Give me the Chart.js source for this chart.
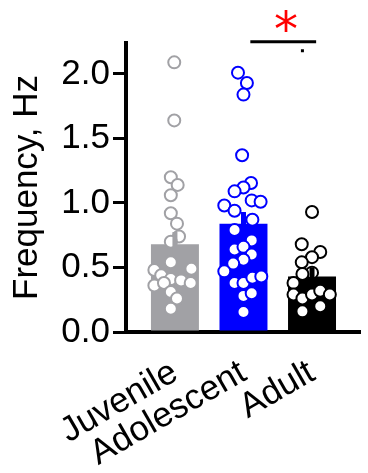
<!DOCTYPE html>
<html>
<head>
<meta charset="utf-8">
<script src="https://cdn.jsdelivr.net/npm/chart.js@4/dist/chart.umd.min.js"></script>
<style>
  html, body { margin: 0; padding: 0; background: #fff; }
  #wrap { width: 368px; height: 473px; }
</style>
</head>
<body>
<div id="wrap"><canvas id="chart" width="368" height="473"></canvas></div>
<script>
// Data

const groups = ['Juvenile', 'Adolescent', 'Adult'];
const means = [0.68, 0.84, 0.43];
const sems = [0.095, 0.09, 0.07];

const juvenileValues = [2.09, 1.64, 1.20, 1.14, 1.06, 0.92, 0.84, 0.74, 0.70, 0.54, 0.48,
  0.44, 0.49, 0.36, 0.41, 0.40, 0.38, 0.38, 0.31, 0.26, 0.18];
const juvenileJitter = [-0.01, -0.01, -0.06, 0.04, -0.06, -0.06, 0.03, 0.06, -0.06, -0.06, -0.30,
  -0.20, 0.24, -0.30, -0.06, 0.09, 0.23, -0.16, -0.06, 0.03, -0.06];

const adolescentValues = [2.01, 1.93, 1.84, 1.37, 1.155, 1.12, 1.09, 1.02, 1.01, 0.98, 0.94,
  0.87, 0.79, 0.71, 0.64, 0.66, 0.60, 0.56, 0.53, 0.47, 0.38, 0.38, 0.42, 0.43, 0.28, 0.30, 0.155];
const adolescentJitter = [-0.08, 0.05, 0, -0.02, 0.11, 0, -0.13, 0.12, 0.25, -0.28, -0.13,
  0.13, -0.13, 0.12, -0.13, 0, 0.12, 0, -0.15, -0.28, -0.13, 0, 0.13, 0.26, 0, 0.12, 0];

const adultValues = [0.93, 0.68, 0.62, 0.58, 0.54, 0.46, 0.45, 0.38, 0.29, 0.26, 0.29,
  0.32, 0.29, 0.20, 0.16];
const adultJitter = [0, -0.15, 0.12, 0, -0.15, 0, -0.14, -0.27, -0.27, -0.14, 0,
  0.12, 0.26, 0.12, -0.14];

const yTicks = [0, 0.5, 1.0, 1.5, 2.0];

// significance bracket between Adolescent and Adult
const sigLine = { from: 1.1, to: 2.06, y: 2.25 };
const sigDot = { x: 1.86, y: 2.18 };
const sigStar = { x: 1.62, y: 2.41, text: '*' };

const colors = ['#a1a1a5', '#0000ff', '#000000'];
const FONT = '"Liberation Sans", Arial, Helvetica, sans-serif';

function points(vals, jitter, idx) {
  return vals.map((v, i) => ({ x: idx + jitter[i], y: v }));
}

const scatterSets = [
  [juvenileValues, juvenileJitter],
  [adolescentValues, adolescentJitter],
  [adultValues, adultJitter]
].map(([vals, jit], i) => ({
  type: 'scatter',
  data: points(vals, jit, i),
  order: 1,
  pointRadius: 6,
  pointBorderWidth: 2,
  pointBackgroundColor: '#ffffff',
  pointBorderColor: colors[i],
  pointHoverRadius: 6
}));

// error bars (drawn over the dots) plus the bracket and star
const extras = {
  id: 'extras',
  afterDatasetsDraw(chart) {
    const { ctx, scales: { x, y } } = chart;
    ctx.save();
    ctx.lineWidth = 5;
    means.forEach((m, i) => {
      const px = x.getPixelForValue(i);
      ctx.strokeStyle = colors[i];
      ctx.beginPath();
      ctx.moveTo(px, y.getPixelForValue(m - sems[i]));
      ctx.lineTo(px, y.getPixelForValue(m + sems[i]));
      ctx.stroke();
    });
    ctx.restore();
  },
  afterDraw(chart) {
    const { ctx, scales: { x, y } } = chart;
    ctx.save();
    const ly = y.getPixelForValue(sigLine.y);
    ctx.strokeStyle = '#000';
    ctx.lineWidth = 3;
    ctx.beginPath();
    ctx.moveTo(x.getPixelForValue(sigLine.from), ly);
    ctx.lineTo(x.getPixelForValue(sigLine.to), ly);
    ctx.stroke();
    ctx.fillStyle = '#000';
    ctx.fillRect(x.getPixelForValue(sigDot.x) - 1.5, y.getPixelForValue(sigDot.y) - 1.5, 3, 3);

    ctx.font = '48px "DejaVu Sans", sans-serif';
    ctx.fillStyle = '#ff0000';
    ctx.textAlign = 'center';
    ctx.textBaseline = 'alphabetic';
    const m = ctx.measureText(sigStar.text);
    const cy = y.getPixelForValue(sigStar.y);
    const base = cy + (m.actualBoundingBoxAscent - m.actualBoundingBoxDescent) / 2;
    ctx.fillText(sigStar.text, x.getPixelForValue(sigStar.x), base);
    ctx.restore();
  }
};

new Chart(document.getElementById('chart'), {
  type: 'bar',
  data: {
    datasets: [
      ...scatterSets,
      {
        type: 'bar',
        data: means.map((m, i) => ({ x: i, y: m })),
        order: 2,
        backgroundColor: colors,
        borderWidth: 0,
        barPercentage: 0.7,
        categoryPercentage: 1
      }
    ]
  },
  options: {
    responsive: false,
    animation: false,
    events: [],
    layout: { padding: { top: 43, right: 0, left: 0, bottom: 0 } },
    plugins: { legend: { display: false }, tooltip: { enabled: false } },
    scales: {
      x: {
        type: 'linear',
        offset: false,
        min: -0.714,
        max: 2.70,
        afterBuildTicks(scale) {
          scale.ticks = groups.map((g, i) => ({ value: i }));
        },
        afterFit(scale) {
          scale.height = 141;
          scale.paddingLeft = 0;
          scale.paddingRight = 0;
        },
        grid: { display: false, drawTicks: false },
        border: { display: true, color: '#000', width: 4 },
        ticks: {
          autoSkip: false,
          minRotation: 30,
          maxRotation: 30,
          padding: 20,
          color: '#000',
          font: { family: FONT, size: 35 },
          callback: (v) => groups[v]
        }
      },
      y: {
        min: 0,
        max: 2.24,
        afterBuildTicks(scale) {
          scale.ticks = yTicks.map(v => ({ value: v }));
        },
        afterFit(scale) { scale.width = 126; },
        grid: {
          drawOnChartArea: false,
          drawTicks: true,
          tickLength: 13,
          lineWidth: 3,
          color: '#000'
        },
        border: { display: true, color: '#000', width: 4 },
        ticks: {
          padding: 3,
          color: '#000',
          font: { family: FONT, size: 35 },
          callback: (v) => v.toFixed(1)
        },
        title: {
          display: true,
          text: 'Frequency, Hz',
          color: '#000',
          font: { family: FONT, size: 35 },
          padding: { top: 6, bottom: 0 }
        }
      }
    }
  },
  plugins: [extras]
});
</script>
</body>
</html>
